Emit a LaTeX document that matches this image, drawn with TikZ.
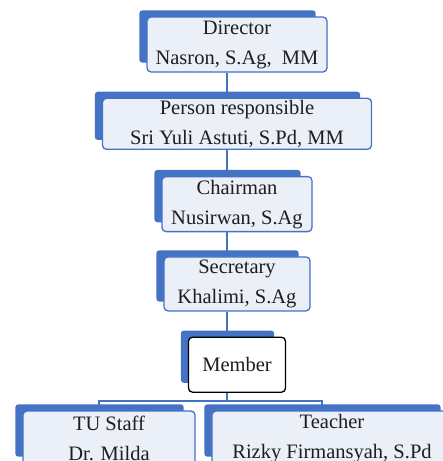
\documentclass[tikz,border=0pt]{standalone}
\usepackage{fontspec}
\newfontfamily\orgfont{Liberation Serif}
\usetikzlibrary{calc, positioning}
\pgfdeclarelayer{links}
\pgfdeclarelayer{tabs}
\pgfsetlayers{links,tabs,main}
\definecolor{tabblue}{HTML}{4472C4}
\definecolor{boxfill}{HTML}{EAEFF8}
\definecolor{inkgray}{HTML}{1E1E1E}

\begin{document}
\begin{tikzpicture}[x=1pt, y=-1pt,
    font=\orgfont\fontsize{20.5}{30}\selectfont, text=inkgray,
    orgbox/.style={draw=tabblue, line width=1.3pt, rounded corners=4pt, fill=boxfill, align=center, inner sep=0pt},
    memberbox/.style={orgbox, draw=black, fill=white},
    tab/.style={fill=tabblue, rounded corners=3pt},
    link/.style={draw=tabblue, line width=1.3pt}]
    \useasboundingbox (0,0) rectangle (443,461);
    \coordinate (spine) at (227,0);

    \node[orgbox, minimum width=180pt, minimum height=55pt] (dir) at (237,44.5) {Director\\Nasron, S.Ag,~ MM};
    \node[orgbox, minimum width=269pt, minimum height=51pt, below=25pt of dir] (pr) {Person responsible\\Sri Yuli Astuti, S.Pd, MM};
    \node[orgbox, minimum width=150pt, minimum height=55pt, below=26pt of pr] (chair) {Chairman\\Nusirwan, S.Ag};
    \node[orgbox, minimum width=146pt, minimum height=54pt, below=24pt of chair] (sec) {Secretary\\Khalimi, S.Ag};
    \node[memberbox, minimum width=97pt, minimum height=55pt, below=25pt of sec] (mem) {Member};
    \node[orgbox, minimum width=172pt, minimum height=55pt] (tu) at (109,438.5) {TU Staff\\Dr. Milda};
    \node[orgbox, minimum width=240pt, minimum height=55pt] (teach) at (332,438.5) {Teacher\\Rizky Firmansyah, S.Pd};

    % blue tabs behind the boxes
    \begin{pgfonlayer}{tabs}
        \foreach \n in {dir,pr,chair,sec,mem,tu,teach}
            \fill[tab] ($(\n.north west)+(-7,-6)$) rectangle ($(\n.south east)+(-12,-10)$);
    \end{pgfonlayer}

    % connectors
    \begin{pgfonlayer}{links}
        \draw[link] (dir.south -| spine) -- (pr.north -| spine);
        \draw[link] (pr.south -| spine) -- (chair.north -| spine);
        \draw[link] (chair.south -| spine) -- (sec.north -| spine);
        \draw[link] (sec.south -| spine) -- (mem.north -| spine);
        \draw[link] (mem.south -| spine) -- ++(0,8) -| ([xshift=-10pt]tu.north);
        \draw[link] (mem.south -| spine) -- ++(0,8) -| ([xshift=-10pt]teach.north);
    \end{pgfonlayer}
\end{tikzpicture}
\end{document}
